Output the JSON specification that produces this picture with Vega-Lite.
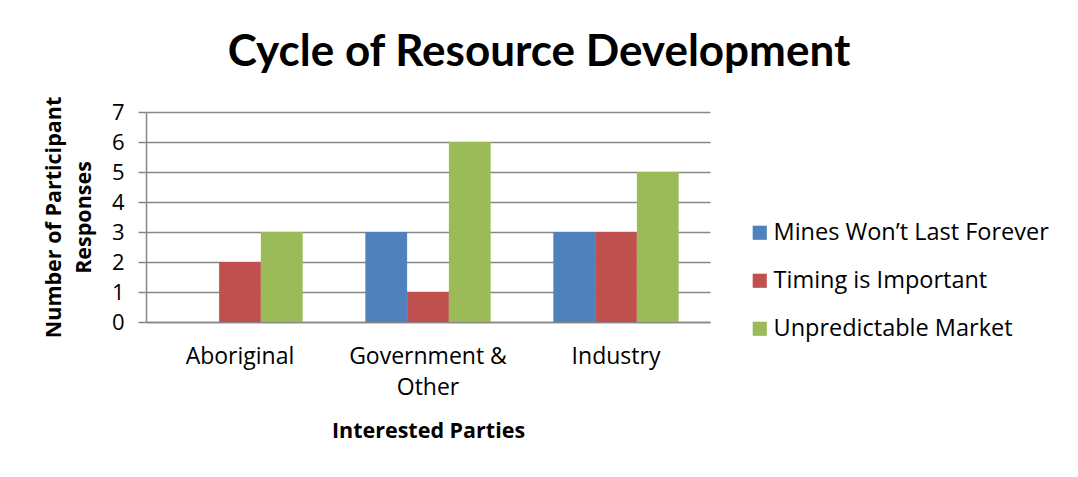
{
  "$schema": "https://vega.github.io/schema/vega-lite/v6.json",
  "width": 564,
  "height": 210,
  "padding": {"left": 43, "top": 31, "right": 10, "bottom": 10},
  "background": "white",
  "title": {
    "text": "Cycle of Resource Development",
    "fontSize": 44,
    "font": "Lato",
    "fontWeight": "bold",
    "color": "#000000",
    "anchor": "middle",
    "frame": "group",
    "dx": 111,
    "offset": 21
  },
  "data": {
    "values": [
      {"party": "Aboriginal", "response": "Mines Won’t Last Forever", "count": 0},
      {"party": "Aboriginal", "response": "Timing is Important", "count": 2},
      {"party": "Aboriginal", "response": "Unpredictable Market", "count": 3},
      {"party": "Government & Other", "response": "Mines Won’t Last Forever", "count": 3},
      {"party": "Government & Other", "response": "Timing is Important", "count": 1},
      {"party": "Government & Other", "response": "Unpredictable Market", "count": 6},
      {"party": "Industry", "response": "Mines Won’t Last Forever", "count": 3},
      {"party": "Industry", "response": "Timing is Important", "count": 3},
      {"party": "Industry", "response": "Unpredictable Market", "count": 5}
    ]
  },
  "mark": {"type": "bar"},
  "encoding": {
    "x": {
      "field": "party",
      "type": "nominal",
      "sort": null,
      "scale": {"paddingInner": 0, "paddingOuter": 0},
      "axis": {
        "title": "Interested Parties",
        "titleFont": "Open Sans",
        "titleFontSize": 21.5,
        "titleFontWeight": "bold",
        "titleColor": "#000000",
        "titlePadding": 21,
        "labelFont": "Open Sans",
        "labelFontSize": 23,
        "labelColor": "#000000",
        "labelAngle": 0,
        "labelPadding": 23,
        "labelExpr": "datum.value == 'Government & Other' ? ['Government &', 'Other'] : datum.value",
        "labelLineHeight": 31,
        "ticks": false,
        "domainColor": "#868686",
        "domainWidth": 1.5
      }
    },
    "xOffset": {
      "field": "response",
      "type": "nominal",
      "scale": {"paddingInner": 0, "paddingOuter": 0.75}
    },
    "y": {
      "field": "count",
      "type": "quantitative",
      "scale": {"domain": [0, 7]},
      "axis": {
        "title": ["Number of Participant", "Responses"],
        "titleFont": "Open Sans",
        "titleFontSize": 21.5,
        "titleFontWeight": "bold",
        "titleColor": "#000000",
        "titlePadding": 16,
        "titleLineHeight": 30,
        "labelFont": "Open Sans",
        "labelFontSize": 22,
        "labelColor": "#000000",
        "labelPadding": 14,
        "values": [0, 1, 2, 3, 4, 5, 6, 7],
        "grid": true,
        "gridColor": "#868686",
        "gridWidth": 1.5,
        "tickColor": "#868686",
        "tickSize": 8,
        "tickWidth": 1.5,
        "domainColor": "#868686",
        "domainWidth": 1.5
      }
    },
    "color": {
      "field": "response",
      "type": "nominal",
      "scale": {
        "domain": ["Mines Won’t Last Forever", "Timing is Important", "Unpredictable Market"],
        "range": ["#4F81BD", "#C0504D", "#9BBB59"]
      },
      "legend": {
        "title": null,
        "orient": "none",
        "legendX": 602,
        "legendY": 109,
        "symbolType": "square",
        "symbolSize": 200,
        "symbolStrokeWidth": 0,
        "labelFont": "Open Sans",
        "labelFontSize": 23.5,
        "labelColor": "#000000",
        "labelOffset": 2,
        "rowPadding": 23,
        "labelLimit": 400
      }
    }
  },
  "config": {
    "view": {"stroke": null}
  }
}
